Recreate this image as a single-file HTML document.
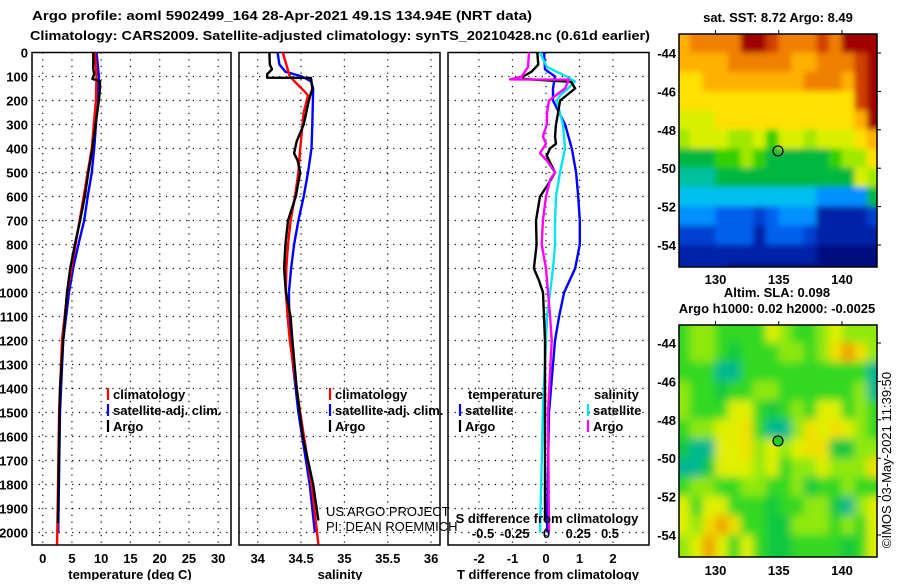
<!DOCTYPE html>
<html><head><meta charset="utf-8"><style>
html,body{margin:0;padding:0;background:#fff;}
svg text{font-family:"Liberation Sans",Arial,sans-serif;font-weight:bold;font-size:13px;fill:#000;}
.reg{font-weight:normal;}
</style></head><body>
<svg id="fig" width="900" height="580" viewBox="0 0 900 580" xmlns="http://www.w3.org/2000/svg">
<defs>
<filter id="blur1" x="-5%" y="-5%" width="110%" height="110%"><feGaussianBlur stdDeviation="3"/></filter>
<filter id="blur2" x="-5%" y="-5%" width="110%" height="110%"><feGaussianBlur stdDeviation="4.5"/></filter>
<clipPath id="clipMap1"><rect x="679" y="34" width="198" height="233"/></clipPath>
<clipPath id="clipMap2"><rect x="679" y="325" width="198" height="232"/></clipPath>
</defs>
<text x="282" y="20" text-anchor="middle" font-size="14" textLength="500" lengthAdjust="spacingAndGlyphs">Argo profile: aoml 5902499_164 28-Apr-2021 49.1S 134.94E (NRT data)</text>
<text x="30" y="40" font-size="14" textLength="620" lengthAdjust="spacingAndGlyphs">Climatology: CARS2009. Satellite-adjusted climatology: synTS_20210428.nc (0.61d earlier)</text>
<g id="panels"></g>
<g id="maps"></g>
<text x="778" y="22" text-anchor="middle">sat. SST: 8.72 Argo: 8.49</text>
<text x="777" y="297" text-anchor="middle">Altim. SLA: 0.098</text>
<text x="777" y="313" text-anchor="middle">Argo h1000: 0.02 h2000: -0.0025</text>
<text class="reg" transform="translate(891,460) rotate(-90)" text-anchor="middle" font-size="12">©IMOS 03-May-2021 11:39:50</text>
<text class="reg" x="326" y="516" font-size="12">US ARGO PROJECT</text>
<text class="reg" x="326" y="531" font-size="12">PI: DEAN ROEMMICH</text>
</svg>
<script>
// ---- profile data ----
const depthTicks = [0,100,200,300,400,500,600,700,800,900,1000,1100,1200,1300,1400,1500,1600,1700,1800,1900,2000];
const tempTicks = [0,5,10,15,20,25,30];
const salTicks = [34,34.5,35,35.5,36];
const salTickLabels = ["34","34.5","35","35.5","36"];
const tdiffTicks = [-2,-1,0,1,2];
const sdiffTickLabels = ["-0.5","-0.25","0","0.25","0.5"];
const sdiffTicks = [-0.5,-0.25,0,0.25,0.5];

const tArgoDepth = [0,70,90,110,120,150,200,300,400,500,600,700,800,900,1000,1200,1400,1600,1800,1960];
const tArgo = [8.65,8.65,8.8,8.5,9.8,9.8,9.6,9.05,8.5,7.8,7.2,6.4,5.5,4.7,4.15,3.5,2.95,2.8,2.7,2.6];
const tClimDepth = [0,100,200,400,500,600,700,800,900,1000,1200,1500,2000,2050];
const tClim = [8.95,9.2,9.1,8.4,7.7,7.0,6.3,5.6,4.9,4.2,3.3,2.8,2.5,2.45];
const tSatDepth = [0,100,200,400,500,600,700,800,900,1000,1200,1500,2000];
const tSat = [9.2,9.6,9.4,8.8,8.4,7.7,7.1,6.1,5.2,4.5,3.5,2.95,2.65];

const sArgoDepth = [0,50,70,90,105,106,150,200,300,370,420,450,500,600,700,800,900,1000,1100,1200,1400,1600,1800,1950];
const sArgo = [34.135,34.14,34.165,34.11,34.11,34.615,34.63,34.59,34.53,34.45,34.42,34.46,34.49,34.44,34.35,34.32,34.305,34.325,34.38,34.4,34.45,34.52,34.64,34.70];
const sClimDepth = [0,100,170,180,250,400,500,600,700,800,900,1000,1100,1200,1500,1800,2050];
const sClim = [34.29,34.37,34.56,34.58,34.53,34.49,34.47,34.43,34.38,34.35,34.33,34.325,34.345,34.37,34.49,34.62,34.70];
const sSatDepth = [0,50,80,100,120,150,300,400,500,600,700,800,900,1000,1100,1200,1500,1800,2000];
const sSat = [34.23,34.25,34.32,34.51,34.615,34.64,34.63,34.62,34.58,34.53,34.47,34.42,34.385,34.36,34.365,34.375,34.47,34.6,34.66];

const dtArgoDepth = [0,50,80,100,110,122,150,200,250,300,350,380,400,430,500,550,600,700,800,900,950,1000,1100,1200,1500,1800,1950];
const dtArgo = [-0.26,-0.23,-0.43,-0.68,-0.69,0.75,0.87,0.42,0.36,0.3,0.27,0.3,0.12,0.02,0.27,0.06,-0.18,-0.3,-0.28,-0.36,-0.21,-0.09,-0.06,-0.03,-0.03,-0.03,-0.03];
const dtSatDepth = [0,70,100,150,200,300,400,500,600,700,800,900,1000,1100,1200,1500,2000];
const dtSat = [-0.06,-0.03,0.27,0.21,0.21,0.57,0.77,0.9,0.96,1.01,1.01,0.87,0.54,0.39,0.27,0.09,0.03];
const dsSatDepth = [0,60,100,120,150,180,200,300,400,500,600,700,800,900,1000,1100,1200,1500,2000];
const dsSat = [-0.051,0.002,0.159,0.224,0.169,0.106,0.08,0.13,0.146,0.106,0.075,0.067,0.067,0.051,0.028,0.004,-0.004,-0.028,-0.051];
const dsArgoDepth = [0,60,100,112,113,150,200,250,300,350,380,420,450,500,530,600,700,800,900,1000,1100,1200,1500,2000];
const dsArgo = [-0.138,-0.146,-0.195,-0.287,0.177,0.146,0.02,0.004,0.002,-0.028,-0.004,-0.051,0.002,0.067,0.028,-0.004,-0.028,-0.038,-0.004,0.012,0.028,0.041,0.012,0.02];

// ---- map data (hex digit = colour level) ----
const sstLevels = ["#00107f","#0020a8","#0040d0","#0060ee","#0090ff","#00c0f0","#00c0a0","#00b840","#30d000","#a0e800","#d8f000","#ffe000","#ffb000","#f08000","#d04000","#a00000"];
const sstRows = ["cddddffedddedfff","ccccdddddccdddef","bbccccccccdddcef","bbbbbbbbbbbbbbef","aaabbbbbbbbbbbcf","9aaa99a8aa9aaabc","777889877777899b","66677777777777a9","5555555555544447","4443332344411112","2223331333211111","1111111111100000","1111000000000000"];
const slaLevels = ["#00107f","#0020a8","#0040d0","#0060ee","#0090ff","#00c0f0","#00b890","#10c840","#30d820","#90e810","#e0f000","#f0e000","#f0a000","#e07000","#d04000","#a00000"];
const slaRows = ["8998888a9889a999","899878889989bcb9","8886688888888886","9887889988888896","9888aa87898aa898","899aab8669baba98","766aab9a9abb7799","667aaa9a899a999b","8998899889788988","a8aa88878899769a","a9bcb8877999898a","9aca8a877888878a","9aca8a877888878a"];

const NS = "http://www.w3.org/2000/svg";
function mk(tag, attrs, parent){const e=document.createElementNS(NS,tag);for(const k in attrs)e.setAttribute(k,attrs[k]);parent.appendChild(e);return e;}

const TOP = 52.5, BOT = 545;
const yD = d => TOP + d*0.24;
const panelsG = document.getElementById('panels');

function panel(name, x0, x1, xScale, vTicks, vLabels, title, titleX){
  const g = mk('g',{},panelsG);
  
  
  depthTicks.forEach(d=>{ if(d>0){ const l=mk('line',{x1:x0,x2:x1,y1:yD(d),y2:yD(d),stroke:'#000','stroke-width':1.2,'stroke-dasharray':'1.2,5.5'},g);
     }});
  vTicks.forEach((v,i)=>{ const x=xScale(v); const l=mk('line',{x1:x,x2:x,y1:TOP,y2:BOT,stroke:'#000','stroke-width':1.2,'stroke-dasharray':'1.2,5.5'},g);
     
    const t=mk('text',{x:x,y:563,'text-anchor':'middle'},g); t.textContent=vLabels[i];
     });
  const fr=mk('rect',{x:x0,y:TOP,width:x1-x0,height:BOT-TOP,fill:'none',stroke:'#000','stroke-width':1.5},g);
   
  const tt=mk('text',{x:titleX,y:579,'text-anchor':'middle'},g); tt.textContent=title;
   
  return g;
}
function line(g, name, depths, vals, xScale, color){
  const pts = depths.map((d,i)=>xScale(vals[i]).toFixed(1)+','+yD(d).toFixed(1)).join(' ');
  const p = mk('polyline',{points:pts,fill:'none',stroke:color,'stroke-width':2.4,'stroke-linejoin':'round'},g);
  
  
}
function legend(g, name, x, y, color, label){
  const l=mk('line',{x1:x,x2:x,y1:y-11,y2:y+1,stroke:color,'stroke-width':2.2},g);
  
  
  const t=mk('text',{x:x+5,y:y,'font-size':12},g); t.textContent=label;
  
  
}

depthTicks.forEach(d=>{const t=mk('text',{x:28,y:yD(d)+5,'text-anchor':'end'},panelsG); t.textContent=String(d);
   });

const xT = v => 42.7 + v*5.85;
const g1 = panel('temperature-panel', 32, 231, xT, tempTicks, tempTicks.map(String), 'temperature (deg C)', 130);
line(g1,'temp-satellite-line',tSatDepth,tSat,xT,'#0000ff');
line(g1,'temp-climatology-line',tClimDepth,tClim,xT,'#ff0000');
line(g1,'temp-argo-line',tArgoDepth,tArgo,xT,'#000');
legend(g1,'legend-climatology',108,399,'#ff0000','climatology');
legend(g1,'legend-satellite-adj',108,415,'#0000ff','satellite-adj. clim.');
legend(g1,'legend-argo',108,431,'#000','Argo');

const xS = v => 257.7 + (v-34)*86.7;
const g2 = panel('salinity-panel', 239, 440, xS, salTicks, salTickLabels, 'salinity', 340);
line(g2,'sal-satellite-line',sSatDepth,sSat,xS,'#0000ff');
line(g2,'sal-climatology-line',sClimDepth,sClim,xS,'#ff0000');
line(g2,'sal-argo-line',sArgoDepth,sArgo,xS,'#000');
legend(g2,'legend-climatology-sal',330,399,'#ff0000','climatology');
legend(g2,'legend-satellite-adj-sal',330,415,'#0000ff','satellite-adj. clim.');
legend(g2,'legend-argo-sal',330,431,'#000','Argo');

const xDT = v => 546 + v*33.5;
const xDS = v => 546.5 + v*127;
const g3 = panel('difference-panel', 448, 649, xDT, tdiffTicks, tdiffTicks.map(String), 'T difference from climatology', 548);
line(g3,'tdiff-satellite-line',dtSatDepth,dtSat,xDT,'#0000ff');
line(g3,'sdiff-satellite-line',dsSatDepth,dsSat,xDS,'#00e5ee');
line(g3,'tdiff-argo-line',dtArgoDepth,dtArgo,xDT,'#000');
line(g3,'sdiff-argo-line',dsArgoDepth,dsArgo,xDS,'#ff00ff');
{const t=mk('text',{x:468,y:399,'font-size':12},g3); t.textContent='temperature';
  
 const s=mk('text',{x:594,y:399,'font-size':12},g3); s.textContent='salinity';
  }
legend(g3,'legend-t-satellite',460,415,'#0000ff','satellite');
legend(g3,'legend-t-argo',460,431,'#000','Argo');
legend(g3,'legend-s-satellite',588,415,'#00e5ee','satellite');
legend(g3,'legend-s-argo',588,431,'#ff00ff','Argo');
{const t=mk('text',{x:547,y:523,'text-anchor':'middle'},g3); t.textContent='S difference from climatology';
  
 sdiffTicks.forEach((v,i)=>{const l=mk('text',{x:xDS(v),y:538,'text-anchor':'middle'},g3); l.textContent=sdiffTickLabels[i];
  });}

const mapsG = document.getElementById('maps');
const lonTicks = [130,135,140];
const latTicks = [-44,-46,-48,-50,-52,-54];
function drawMap(name, top, bottom, rows, levels, filt, clip, lat44y, lonLabelY, markerFill){
  const g = mk('g',{},mapsG);
  
  
  const x0=679, x1=877;
  const lx = lon => 715.5 + (lon-130)*12.65;
  const ly = lat => lat44y + (-44-lat)*19.2;
  const cg = mk('g',{'clip-path':'url(#'+clip+')'},g);
  const bg = mk('g',{filter:'url(#'+filt+')'},cg);
  rows.forEach((r,ri)=>{ for(let ci=0;ci<r.length;ci++){
    const lon = 127 + ci, lat = -43 - ri;
    let w = 12.65+0.6, xx = lx(lon)-0.3, yy = ly(lat)-0.3, h = 19.2+0.6;
    if(ci===0){xx-=12; w+=12;}
    if(ci===r.length-1){w+=12;}
    if(ri===0){yy-=12; h+=12;}
    if(ri===rows.length-1){h+=12;}
    const c = mk('rect',{x:xx,y:yy,width:w,height:h,fill:levels[parseInt(r[ci],16)]},bg);
    
    
  }});
  const fr=mk('rect',{x:x0,y:top,width:x1-x0,height:bottom-top,fill:'none',stroke:'#000','stroke-width':1.5},g);
   
  lonTicks.forEach(l=>{ mk('line',{x1:lx(l),x2:lx(l),y1:top-4,y2:top,stroke:'#000'},g);
    const t=mk('text',{x:lx(l),y:lonLabelY,'text-anchor':'middle'},g); t.textContent=String(l);
     });
  latTicks.forEach(l=>{ mk('line',{x1:x1,x2:x1+4,y1:ly(l),y2:ly(l),stroke:'#000'},g);
    const t=mk('text',{x:676,y:ly(l)+5,'text-anchor':'end'},g); t.textContent=String(l);
     });
  const m=mk('circle',{cx:lx(134.94),cy:ly(-49.1),r:5,fill:markerFill,stroke:'#000','stroke-width':1.2},g);
   
}
drawMap('sst-map',34,267,sstRows,sstLevels,'blur1','clipMap1',53,284,'none');
drawMap('sla-map',325,557,slaRows,slaLevels,'blur2','clipMap2',343,575,'#20d020');
</script>
</body></html>
